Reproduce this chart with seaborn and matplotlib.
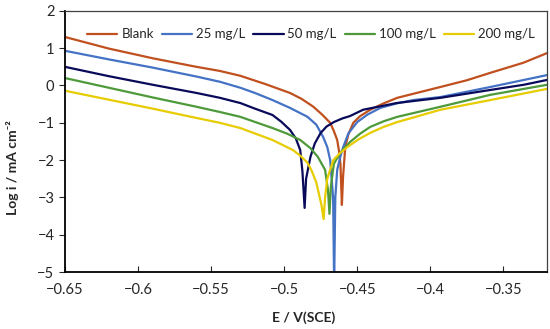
import pandas as pd
import matplotlib
matplotlib.use("Agg")
import matplotlib.pyplot as plt
import seaborn as sns

# Tafel data (E in V vs SCE, log i in mA cm-2)
blank_E = [-0.650, -0.620, -0.590, -0.560, -0.544, -0.530, -0.513, -0.496, -0.488, -0.480,
           -0.474, -0.4685, -0.466, -0.4637, -0.4625, -0.4615, -0.4605, -0.4597, -0.4582,
           -0.456, -0.4527, -0.448, -0.4411, -0.432, -0.4226, -0.3931, -0.375, -0.3589,
           -0.3363, -0.320]
blank_logi = [1.30, 0.99, 0.73, 0.50, 0.39, 0.26, 0.04, -0.20, -0.36, -0.57,
              -0.78, -1.00, -1.22, -1.46, -1.75, -2.10, -3.20, -2.45, -1.65,
              -1.30, -1.00, -0.82, -0.65, -0.48, -0.33, -0.04, 0.14, 0.34,
              0.61, 0.87]

c25_E = [-0.650, -0.620, -0.590, -0.560, -0.544, -0.530, -0.520, -0.508, -0.496, -0.484,
         -0.478, -0.4733, -0.4705, -0.4685, -0.4665, -0.4658, -0.4650, -0.4637, -0.4615,
         -0.4596, -0.456, -0.450, -0.443, -0.4342, -0.423, -0.4116, -0.3931, -0.3589, -0.320]
c25_logi = [0.93, 0.70, 0.48, 0.24, 0.10, -0.06, -0.20, -0.39, -0.60, -0.84,
            -1.05, -1.38, -1.65, -2.00, -3.00, -5.30, -3.00, -2.26, -1.90,
            -1.65, -1.28, -0.98, -0.78, -0.60, -0.48, -0.39, -0.31, -0.04, 0.28]

c50_E = [-0.650, -0.620, -0.590, -0.560, -0.544, -0.530, -0.520, -0.508, -0.502, -0.496,
         -0.492, -0.489, -0.4875, -0.486, -0.485, -0.482, -0.479, -0.475, -0.471, -0.466,
         -0.460, -0.455, -0.446, -0.423, -0.393, -0.359, -0.336, -0.320]
c50_logi = [0.50, 0.25, 0.02, -0.20, -0.33, -0.47, -0.62, -0.79, -0.97, -1.19,
            -1.42, -1.73, -2.30, -3.28, -2.50, -1.91, -1.55, -1.27, -1.10, -0.98,
            -0.88, -0.82, -0.65, -0.47, -0.33, -0.12, 0.02, 0.15]

c100_E = [-0.650, -0.620, -0.590, -0.560, -0.544, -0.530, -0.508, -0.498, -0.489, -0.482,
          -0.477, -0.472, -0.470, -0.469, -0.468, -0.466, -0.4616, -0.4548, -0.448, -0.4411,
          -0.432, -0.4226, -0.3931, -0.3589, -0.320]
c100_logi = [0.20, -0.06, -0.32, -0.57, -0.71, -0.84, -1.14, -1.29, -1.46, -1.68,
             -1.91, -2.26, -2.80, -3.44, -2.70, -2.10, -1.80, -1.51, -1.29, -1.11,
             -0.96, -0.84, -0.57, -0.25, 0.02]

c200_E = [-0.650, -0.620, -0.590, -0.560, -0.544, -0.530, -0.508, -0.494, -0.489, -0.484,
          -0.481, -0.478, -0.4745, -0.473, -0.472, -0.4705, -0.4664, -0.462, -0.4568, -0.449,
          -0.4411, -0.432, -0.4226, -0.3931, -0.3589, -0.320]
c200_logi = [-0.14, -0.38, -0.62, -0.87, -1.00, -1.14, -1.46, -1.73, -1.88, -2.07,
             -2.30, -2.60, -3.20, -3.58, -3.00, -2.50, -2.00, -1.82, -1.65, -1.44,
             -1.27, -1.11, -0.98, -0.65, -0.39, -0.09]

labels = ["Blank", "25 mg/L", "50 mg/L", "100 mg/L", "200 mg/L"]
colors = ["#C0501E", "#4472C4", "#0A0A5A", "#4E9A3A", "#E6CC00"]

series = [(blank_E, blank_logi), (c25_E, c25_logi), (c50_E, c50_logi),
          (c100_E, c100_logi), (c200_E, c200_logi)]
frames = []
for lab, (e, li) in zip(labels, series):
    frames.append(pd.DataFrame({"E": e, "logi": li, "conc": lab}))
df = pd.concat(frames, ignore_index=True)

sns.set_style("ticks")
plt.rcParams['font.family'] = ['Lato', 'DejaVu Sans']

fig = plt.figure(figsize=(5.5, 3.29), dpi=100)
ax = fig.add_axes([0.118, 0.173, 0.877, 0.794])

sns.lineplot(data=df, x="E", y="logi", hue="conc", hue_order=labels,
             palette=colors, sort=False, estimator=None, linewidth=1.6, ax=ax)

ax.set_xlim(-0.65, -0.32)
ax.set_ylim(-5, 2)
ax.set_xticks([-0.65, -0.6, -0.55, -0.5, -0.45, -0.4, -0.35])
ax.set_xticklabels(["\u22120.65", "\u22120.6", "\u22120.55", "\u22120.5",
                    "\u22120.45", "\u22120.4", "\u22120.35"])
ax.set_yticks([-5, -4, -3, -2, -1, 0, 1, 2])
ax.tick_params(axis="x", direction="in", length=4, labelsize=10.5, pad=8)
ax.tick_params(axis="y", direction="out", length=4, labelsize=10.5)

ax.set_xlabel("E / V(SCE)", fontsize=10, fontweight="bold")
ax.set_ylabel("Log i / mA cm\u207b\u00b2", fontsize=10, fontweight="bold")
ax.xaxis.set_label_coords(0.495, -0.15)
ax.yaxis.set_label_coords(-0.095, 0.40)

for s in ["left", "bottom"]:
    ax.spines[s].set_linewidth(1.3)
    ax.spines[s].set_color("black")
for s in ["top", "right"]:
    ax.spines[s].set_linewidth(0.9)
    ax.spines[s].set_color("#404040")

ax.legend(loc="center", bbox_to_anchor=(0.51, 0.91), ncol=5, frameon=False,
          fontsize=9.5, handlelength=2.3, handletextpad=0.3, columnspacing=0.6)

fig.savefig("out.png", dpi=100)
